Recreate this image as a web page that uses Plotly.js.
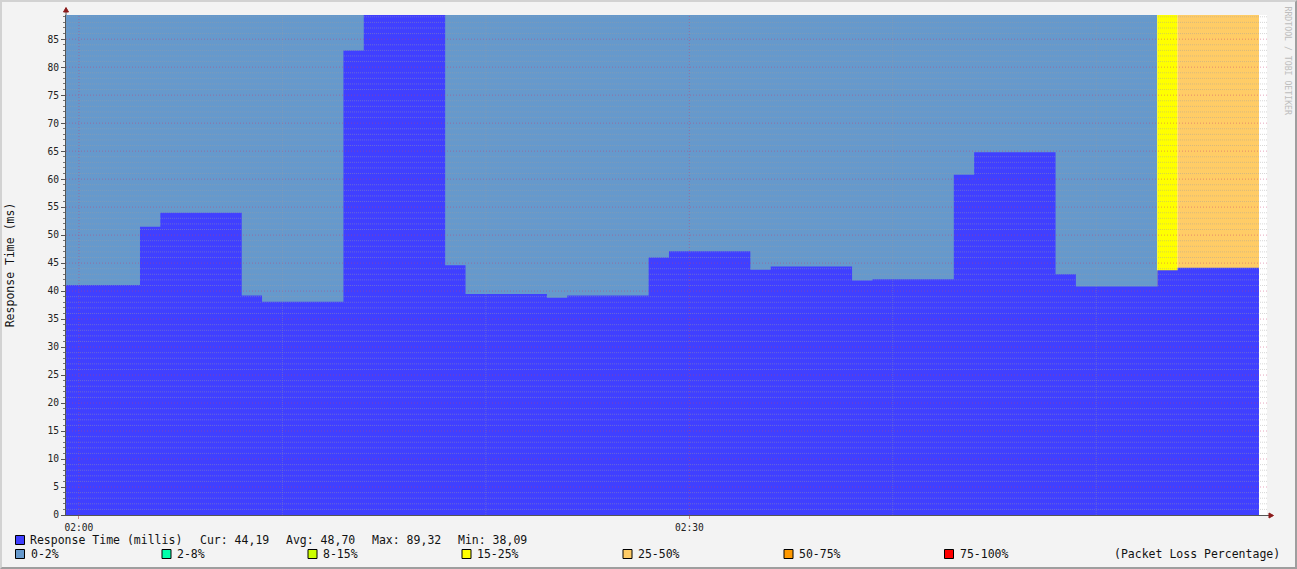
<!DOCTYPE html>
<html><head><meta charset="utf-8">
<script src="https://cdn.plot.ly/plotly-3.0.1.min.js"></script>
<style>
html,body{margin:0;padding:0;background:#f3f3f3;}
#wrap{position:relative;width:1297px;height:569px;}
#chart{width:1297px;height:569px;}
#frame{position:absolute;left:0;top:0;width:1297px;height:569px;box-sizing:border-box;
border-top:2px solid #d2d2d2;border-left:2px solid #d2d2d2;border-right:2px solid #9e9e9e;border-bottom:2px solid #9e9e9e;pointer-events:none;}
</style></head><body>
<div id="wrap"><div id="chart"></div><div id="frame"></div></div>
<script>
// ---------- data ----------
const DAY = '2024-01-01 ';
const stepTimes = ['01:59','02:03','02:04','02:08','02:09','02:13','02:14','02:18','02:19','02:23','02:24','02:28',
                   '02:29','02:33','02:34','02:38','02:39','02:43','02:44','02:48','02:49','02:53','02:54'];
const endTime = '02:58';
const responseMs = [41.1, 51.5, 54.0, 39.2, 38.09, 83.0, 89.32, 44.6, 39.5, 38.8, 39.2, 46.0,
                    47.1, 43.8, 44.4, 41.9, 42.1, 60.8, 64.8, 43.0, 40.8, 43.7, 44.19];
const lossPct    = [0, 0, 0, 0, 0, 0, 0, 0, 0, 0, 0, 0,
                    0, 0, 0, 0, 0, 0, 0, 0, 0, 20, 33];
const lossLabels = ['0-2%','2-8%','8-15%','15-25%','25-50%','50-75%','75-100%'];
const lossUpper  = [2, 8, 15, 25, 50, 75, 100];
const lossColors = ['#6699CC','#00FFAA','#CCFF00','#FFFF00','#FFCC66','#FF9900','#FF0000'];
const seriesLabel = 'Response Time (millis)';
const statLabels = ['Cur: 44,19','Avg: 48,70','Max: 89,32','Min: 38,09'];
const yTickVals = [0,5,10,15,20,25,30,35,40,45,50,55,60,65,70,75,80,85];
const xGridTimes = ['02:00','02:10','02:20','02:30','02:40','02:50'];
const xMajorTimes = ['02:00','02:30'];
const yMax = 89.32;

// ---------- layout helpers (pixel -> paper) ----------
const W = 1297, H = 569, L = 66, R = 1267, T = 15, B = 515;
const PW = R - L, PH = B - T;
const px = v => (v - L) / PW;
const py = v => (B - v) / PH;
const MONO = 'DejaVu Sans Mono, monospace';

const xs = stepTimes.concat([endTime]).map(t => DAY + t + ':00');
const bucketOf = p => lossUpper.findIndex(u => p <= u);

const traces = [];
lossLabels.forEach((lab, bi) => {
  const ys = lossPct.map(p => bucketOf(p) === bi ? yMax : 0);
  ys.push(ys[ys.length - 1]);
  traces.push({x: xs, y: ys, type: 'scatter', mode: 'lines', line: {shape: 'hv', width: 0, color: lossColors[bi]},
    fill: 'tozeroy', fillcolor: lossColors[bi], name: lab, showlegend: false, hoverinfo: 'skip'});
});
traces.push({x: xs, y: responseMs.concat([responseMs[responseMs.length - 1]]), type: 'scatter', mode: 'lines',
  line: {shape: 'hv', width: 0, color: '#4040FF'}, fill: 'tozeroy', fillcolor: '#4040FF',
  name: seriesLabel, showlegend: false});

const MINOR = 'rgba(160,160,160,0.42)', MAJOR = 'rgba(200,60,110,0.45)', VMINOR = 'rgba(160,160,160,0.32)';
const shapes = [];
// grid drawn above the areas, as rrdtool does
for (let v = 1; v < yMax; v++) {
  const major = v % 5 === 0;
  shapes.push({type: 'line', xref: 'paper', yref: 'y', x0: 0, x1: 1, y0: v, y1: v, layer: 'above',
    line: {color: major ? MAJOR : MINOR, width: 1, dash: major ? '1px,2px' : '1px,1px'}});
}
xGridTimes.forEach(t => {
  const major = xMajorTimes.includes(t);
  shapes.push({type: 'line', xref: 'x', yref: 'paper', x0: DAY + t, x1: DAY + t, y0: 0, y1: 1, layer: 'above',
    line: {color: major ? MAJOR : VMINOR, width: 1, dash: major ? '1px,2px' : '1px,1px'}});
});
// axis extensions + arrows
shapes.push({type: 'line', xref: 'paper', yref: 'paper', x0: px(66), x1: px(66), y0: 1, y1: py(10), line: {color: '#555', width: 1}});
shapes.push({type: 'line', xref: 'paper', yref: 'paper', x0: 1, x1: px(1270), y0: py(515.5), y1: py(515.5), line: {color: '#555', width: 1}});
shapes.push({type: 'path', xref: 'paper', yref: 'paper', fillcolor: '#8b1a1a', line: {color: '#8b1a1a', width: 1},
  path: `M ${px(63.5)},${py(12)} L ${px(66)},${py(7.5)} L ${px(68.5)},${py(12)} Z`});
shapes.push({type: 'path', xref: 'paper', yref: 'paper', fillcolor: '#8b1a1a', line: {color: '#8b1a1a', width: 1},
  path: `M ${px(1269)},${py(513)} L ${px(1273.5)},${py(515.5)} L ${px(1269)},${py(518)} Z`});

const annotations = [];
const row1 = 540, row2 = 554;
function box(xl, yc, color) {
  shapes.push({type: 'rect', xref: 'paper', yref: 'paper', x0: px(xl), x1: px(xl + 9), y0: py(yc - 4.5), y1: py(yc + 4.5),
    fillcolor: color, line: {color: '#000', width: 1}});
}
function txt(x, y, s, anchor) {
  annotations.push({xref: 'paper', yref: 'paper', x: px(x), y: py(y), text: s, showarrow: false,
    xanchor: anchor || 'left', yanchor: 'middle', borderpad: 0, font: {family: MONO, size: 11.5, color: '#111'}});
}
box(15.5, row1, '#4040FF');
txt(29, row1, seriesLabel);
[199, 285, 371, 457].forEach((x, i) => txt(x, row1, statLabels[i]));
const legX = [15.5, 162, 308, 462, 623, 784, 944.5];
lossLabels.forEach((lab, i) => { box(legX[i], row2, lossColors[i]); txt(legX[i] + 14, row2, lab); });
txt(1281, row2, '(Packet Loss Percentage)', 'right');
annotations.push({xref: 'paper', yref: 'paper', x: px(1287), y: py(5), text: 'RRDTOOL / TOBI OETIKER', textangle: 90,
  showarrow: false, xanchor: 'center', yanchor: 'top', borderpad: 0, font: {family: MONO, size: 8.2, color: '#bdbdbd'}});

const layout = {
  width: W, height: H,
  margin: {l: L, r: W - R, t: T, b: H - B, pad: 0},
  paper_bgcolor: '#f3f3f3', plot_bgcolor: '#ffffff',
  showlegend: false,
  xaxis: {type: 'date', range: [DAY + '01:59:21.8', DAY + '02:58:23.6'], tickformat: '%H:%M',
    tick0: DAY + '02:00', dtick: 30 * 60 * 1000, showgrid: false, zeroline: false,
    showline: true, linecolor: '#555', linewidth: 1, ticks: 'outside', ticklen: 3, tickcolor: '#c88',
    tickfont: {family: MONO, size: 9.6, color: '#222'}, fixedrange: true},
  yaxis: {range: [0, yMax], tickvals: yTickVals, showgrid: false, zeroline: false,
    showline: true, linecolor: '#555', linewidth: 1, ticks: 'outside', ticklen: 4, tickcolor: '#555',
    minor: {dtick: 1, ticks: 'outside', ticklen: 2, tickcolor: '#777', showgrid: false},
    tickfont: {family: MONO, size: 9.6, color: '#222'},
    title: {text: 'Response Time (ms)', font: {family: MONO, size: 11.5, color: '#111'}, standoff: 30},
    fixedrange: true},
  shapes: shapes, annotations: annotations
};
Plotly.newPlot('chart', traces, layout, {staticPlot: true, displayModeBar: false});
</script></body></html>
